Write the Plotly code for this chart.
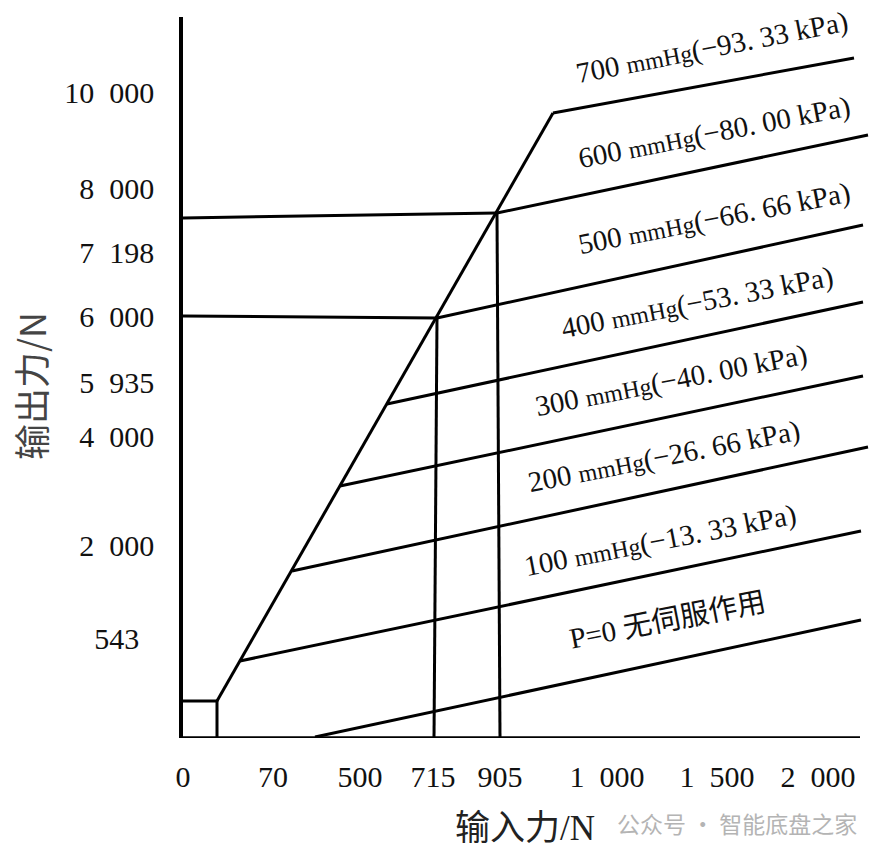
import plotly.graph_objects as go

# ---------------- data (schematic axis units) ----------------
x_tick_pos = [0, 90, 177, 250, 317, 424, 534, 635]
x_tick_labels = ["0", "70", "500", "715", "905", "1\u2002000", "1\u2002500", "2\u2002000"]
y_tick_pos = [646, 550, 486, 422, 356, 302, 193, 100]
y_tick_labels = ["10\u2002000", "8\u2002000", "7\u2002198", "6\u2002000", "5\u2002935",
                 "4\u2002000", "2\u2002000", "543\u2002"]

vacuum_names = ["700 mmHg", "600 mmHg", "500 mmHg", "400 mmHg",
                "300 mmHg", "200 mmHg", "100 mmHg", "P=0"]
vacuum_kpa = ["−93. 33", "−80. 00", "−66. 66", "−53. 33",
              "−40. 00", "−26. 66", "−13. 33", None]
vac_x0 = [370, 314, 254, 204, 157, 109, 57, 132]
vac_y0 = [625, 525, 420, 334, 252, 167, 77, 1]
vac_x1 = [671, 685, 680, 680, 680, 685, 678, 678]
vac_y1 = [680, 603, 513, 436, 362, 291, 207, 118]

# servo envelope: small box + rising line
env_x = [0, 34, 34]
env_y = [37, 37, 0]
env2_x = [34, 370]
env2_y = [37, 625]

# reference lines (output 8000 / 6000 ; input 905 / 715)
ref_h8000_x = [0, 314]
ref_h8000_y = [520, 525]
ref_h6000_x = [0, 254]
ref_h6000_y = [422, 420]
ref_v715_x = [254, 251]
ref_v715_y = [420, 0]
ref_v905_x = [314, 317]
ref_v905_y = [525, 0]

# ---------------- figure ----------------
W, H = 883, 857
ML, MT, MB = 183, 17, 119
PW, PH = W - ML, H - MT - MB
LINE = dict(color="black", width=3)
fig = go.Figure()

def add_line(xs, ys):
    fig.add_trace(go.Scatter(x=xs, y=ys, mode="lines", line=LINE,
                             hoverinfo="skip", showlegend=False))

add_line(env_x, env_y)
add_line(env2_x, env2_y)
for i in range(len(vacuum_names)):
    add_line([vac_x0[i], vac_x1[i]], [vac_y0[i], vac_y1[i]])
add_line(ref_h8000_x, ref_h8000_y)
add_line(ref_h6000_x, ref_h6000_y)
add_line(ref_v715_x, ref_v715_y)
add_line(ref_v905_x, ref_v905_y)

# x axis line
fig.add_shape(type="line", xref="x", yref="y", x0=0, x1=677, y0=0, y1=0,
              line=dict(color="black", width=3.5))

def paper(xp, yp):
    """pixel position of a layout element -> paper coords"""
    return (xp - ML) / PW, ((H - MB) - yp) / PH

def note(xp, yp, text, font, angle=0):
    ax, ay = paper(xp, yp)
    fig.add_annotation(x=ax, y=ay, xref="paper", yref="paper", text=text,
                       showarrow=False, textangle=angle, xanchor="center",
                       yanchor="middle", font=font)

# curve labels (centres, in pixels)
label_px = [(712, 48), (714, 132), (714, 218), (697, 302),
            (671, 380), (664, 457), (660, 540), (667, 620)]
SERIF = "Liberation Serif, Noto Sans CJK SC"
for i, name in enumerate(vacuum_names):
    if vacuum_kpa[i] is not None:
        num = name.split(" ")[0]
        txt = (f"{num} <span style='font-size:24px'>mmHg</span>"
               f"({vacuum_kpa[i]} kPa)")
    else:
        txt = "P=0 无伺服作用"
    note(label_px[i][0], label_px[i][1], txt,
         dict(family=SERIF, size=29, color="#111"), angle=-11)

# axis titles
note(525, 828, "输入力/N", dict(family=SERIF, size=35, color="#222"))
note(30, 386, "输出力/N", dict(family="Noto Sans CJK SC", size=36, color="#444"),
     angle=-90)
# watermark
note(737, 823, "公众号 · 智能底盘之家",
     dict(family="Noto Sans CJK SC", size=23, color="#b4b4b4"))

fig.update_layout(
    width=W, height=H,
    margin=dict(l=ML, r=0, t=MT, b=MB),
    plot_bgcolor="white", paper_bgcolor="white",
    xaxis=dict(range=[0, 700], showgrid=False, zeroline=False, showline=False,
               tickmode="array", tickvals=x_tick_pos, ticktext=x_tick_labels,
               ticks="", ticklabelstandoff=18,
               tickfont=dict(family="Liberation Serif", size=30, color="#111")),
    yaxis=dict(range=[0, 721], showgrid=False, zeroline=False,
               showline=True, linecolor="black", linewidth=3.5,
               tickmode="array", tickvals=y_tick_pos, ticktext=y_tick_labels,
               ticks="", ticklabelstandoff=19,
               tickfont=dict(family="Liberation Serif", size=30, color="#111")),
)

fig.write_html("out.html")
